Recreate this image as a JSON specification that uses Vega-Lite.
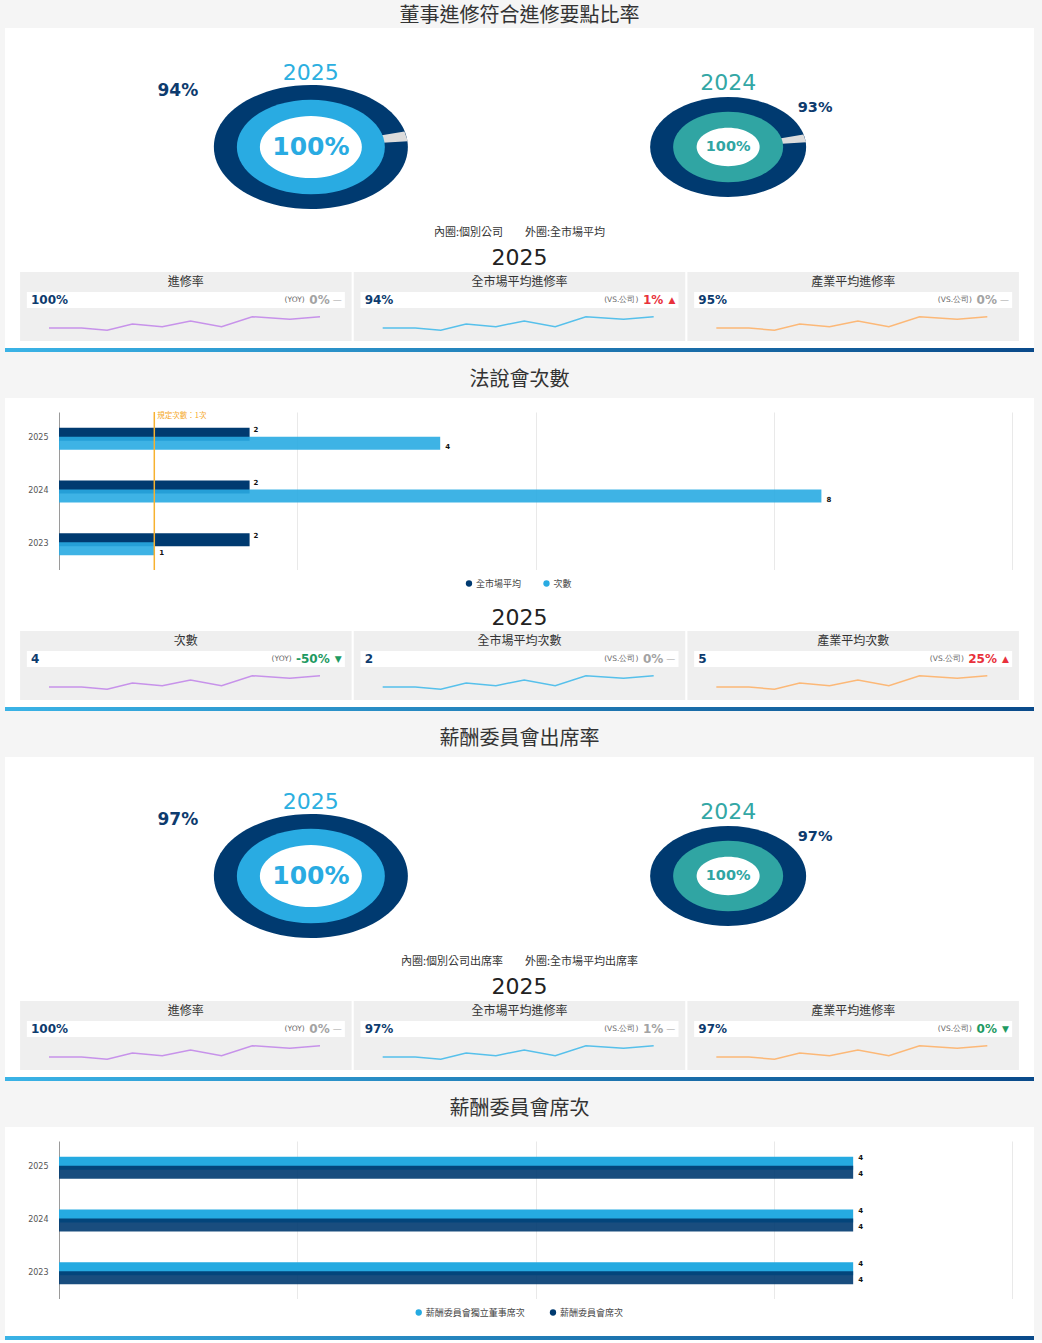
{
  "$schema": "https://vega.github.io/schema/vega-lite/v6.json",
  "background": "#f5f5f5",
  "padding": {"left": 5, "right": 8, "top": 6, "bottom": 0},
  "spacing": 18,
  "resolve": {"scale": {"color": "independent"}},
  "config": {
    "view": {"stroke": null},
    "title": {"font": "Noto Sans CJK TC", "fontSize": 20, "fontWeight": "normal", "color": "#333333", "offset": 8, "anchor": "middle"},
    "text": {"font": "DejaVu Sans"}
  },
  "datasets": {
    "donut1": [
      {"year": "2025", "inner": 1, "outer": 0.94},
      {"year": "2024", "inner": 1, "outer": 0.93}
    ],
    "donut3": [
      {"year": "2025", "inner": 1, "outer": 0.97},
      {"year": "2024", "inner": 1, "outer": 0.97}
    ],
    "cards1": [
      {"pos": 1, "name": "進修率", "val": "100%", "lbl": "(YOY)", "chg": "0%", "dir": "flat", "ind": "—"},
      {"pos": 2, "name": "全市場平均進修率", "val": "94%", "lbl": "(VS.公司)", "chg": "1%", "dir": "up", "ind": "▲"},
      {"pos": 3, "name": "產業平均進修率", "val": "95%", "lbl": "(VS.公司)", "chg": "0%", "dir": "flat", "ind": "—"}
    ],
    "cards2": [
      {"pos": 1, "name": "次數", "val": "4", "lbl": "(YOY)", "chg": "-50%", "dir": "down", "ind": "▼"},
      {"pos": 2, "name": "全市場平均次數", "val": "2", "lbl": "(VS.公司)", "chg": "0%", "dir": "flat", "ind": "—"},
      {"pos": 3, "name": "產業平均次數", "val": "5", "lbl": "(VS.公司)", "chg": "25%", "dir": "up", "ind": "▲"}
    ],
    "cards3": [
      {"pos": 1, "name": "進修率", "val": "100%", "lbl": "(YOY)", "chg": "0%", "dir": "flat", "ind": "—"},
      {"pos": 2, "name": "全市場平均進修率", "val": "97%", "lbl": "(VS.公司)", "chg": "1%", "dir": "flat", "ind": "—"},
      {"pos": 3, "name": "產業平均進修率", "val": "97%", "lbl": "(VS.公司)", "chg": "0%", "dir": "down", "ind": "▼"}
    ],
    "trend": [
      {"pos": 1, "t": 0, "v": 3}, {"pos": 1, "t": 1.08, "v": 3}, {"pos": 1, "t": 1.93, "v": 0.7}, {"pos": 1, "t": 2.77, "v": 7}, {"pos": 1, "t": 3.76, "v": 4.3},
      {"pos": 1, "t": 4.7, "v": 10}, {"pos": 1, "t": 5.73, "v": 4.3}, {"pos": 1, "t": 6.75, "v": 14.3}, {"pos": 1, "t": 8, "v": 11.7}, {"pos": 1, "t": 9, "v": 14.3},
      {"pos": 2, "t": 0, "v": 3}, {"pos": 2, "t": 1.08, "v": 3}, {"pos": 2, "t": 1.93, "v": 0.7}, {"pos": 2, "t": 2.77, "v": 7}, {"pos": 2, "t": 3.76, "v": 4.3},
      {"pos": 2, "t": 4.7, "v": 10}, {"pos": 2, "t": 5.73, "v": 4.3}, {"pos": 2, "t": 6.75, "v": 14.3}, {"pos": 2, "t": 8, "v": 11.7}, {"pos": 2, "t": 9, "v": 14.3},
      {"pos": 3, "t": 0, "v": 3}, {"pos": 3, "t": 1.08, "v": 3}, {"pos": 3, "t": 1.93, "v": 0.7}, {"pos": 3, "t": 2.77, "v": 7}, {"pos": 3, "t": 3.76, "v": 4.3},
      {"pos": 3, "t": 4.7, "v": 10}, {"pos": 3, "t": 5.73, "v": 4.3}, {"pos": 3, "t": 6.75, "v": 14.3}, {"pos": 3, "t": 8, "v": 11.7}, {"pos": 3, "t": 9, "v": 14.3}
    ],
    "talks": [
      {"year": "2025", "series": "全市場平均", "count": 2},
      {"year": "2025", "series": "次數", "count": 4},
      {"year": "2024", "series": "全市場平均", "count": 2},
      {"year": "2024", "series": "次數", "count": 8},
      {"year": "2023", "series": "全市場平均", "count": 2},
      {"year": "2023", "series": "次數", "count": 1}
    ],
    "talkRule": [
      {"req": 1, "label": "規定次數：1次", "at": "2025"}
    ],
    "seats": [
      {"year": "2025", "series": "薪酬委員會獨立董事席次", "count": 4},
      {"year": "2025", "series": "薪酬委員會席次", "count": 4},
      {"year": "2024", "series": "薪酬委員會獨立董事席次", "count": 4},
      {"year": "2024", "series": "薪酬委員會席次", "count": 4},
      {"year": "2023", "series": "薪酬委員會獨立董事席次", "count": 4},
      {"year": "2023", "series": "薪酬委員會席次", "count": 4}
    ],
    "blank": [{}]
  },
  "vconcat": [
    {
      "title": {"text": "董事進修符合進修要點比率", "offset": 2},
      "spacing": 0,
      "bounds": "flush",
      "resolve": {"scale": {"color": "independent"}},
      "vconcat": [
        {
          "width": 1029, "height": 244,
          "view": {"fill": "#ffffff", "stroke": null},
          "data": {"name": "donut1"},
          "layer": [
            {"transform": [{"filter": "datum.year == '2025'"}], "mark": {"type": "point", "shape": "M-1,0A1,0.64,0,1,1,1,0A1,0.64,0,1,1,-1,0Z", "size": 37636, "filled": true, "opacity": 1, "strokeWidth": 0, "color": "#003a70", "yOffset": -3}, "encoding": {"x": {"field": "year", "type": "nominal", "axis": null, "scale": {"type": "point", "domain": ["2025", "2024"], "padding": 0.733}}}},
            {"transform": [{"filter": "datum.year == '2024'"}], "mark": {"type": "point", "shape": "M-1,0A1,0.64,0,1,1,1,0A1,0.64,0,1,1,-1,0Z", "size": 24336, "filled": true, "opacity": 1, "strokeWidth": 0, "color": "#003a70", "yOffset": -3}, "encoding": {"x": {"field": "year", "type": "nominal", "axis": null}}},
            {"transform": [{"filter": "datum.year == '2025'"}], "mark": {"type": "point", "shape": "M0,0L1.0,-0.06L0.965,-0.16Z", "size": 37636, "filled": true, "opacity": 1, "strokeWidth": 0, "color": "#dcdcdc", "yOffset": -3}, "encoding": {"x": {"field": "year", "type": "nominal", "axis": null}}},
            {"transform": [{"filter": "datum.year == '2024'"}], "mark": {"type": "point", "shape": "M0,0L1.0,-0.06L0.965,-0.16Z", "size": 24336, "filled": true, "opacity": 1, "strokeWidth": 0, "color": "#dcdcdc", "yOffset": -3}, "encoding": {"x": {"field": "year", "type": "nominal", "axis": null}}},
            {"transform": [{"filter": "datum.year == '2025'"}], "mark": {"type": "point", "shape": "M-1,0A1,0.64,0,1,1,1,0A1,0.64,0,1,1,-1,0Z", "size": 21904, "filled": true, "opacity": 1, "strokeWidth": 0, "color": "#29abe2", "yOffset": -3}, "encoding": {"x": {"field": "year", "type": "nominal", "axis": null}}},
            {"transform": [{"filter": "datum.year == '2024'"}], "mark": {"type": "point", "shape": "M-1,0A1,0.64,0,1,1,1,0A1,0.64,0,1,1,-1,0Z", "size": 12100, "filled": true, "opacity": 1, "strokeWidth": 0, "color": "#30a5a3", "yOffset": -3}, "encoding": {"x": {"field": "year", "type": "nominal", "axis": null}}},
            {"transform": [{"filter": "datum.year == '2025'"}], "mark": {"type": "point", "shape": "M-1,0A1,0.61,0,1,1,1,0A1,0.61,0,1,1,-1,0Z", "size": 10404, "filled": true, "opacity": 1, "strokeWidth": 0, "color": "#ffffff", "yOffset": -3}, "encoding": {"x": {"field": "year", "type": "nominal", "axis": null}}},
            {"transform": [{"filter": "datum.year == '2024'"}], "mark": {"type": "point", "shape": "M-1,0A1,0.61,0,1,1,1,0A1,0.61,0,1,1,-1,0Z", "size": 3969, "filled": true, "opacity": 1, "strokeWidth": 0, "color": "#ffffff", "yOffset": -3}, "encoding": {"x": {"field": "year", "type": "nominal", "axis": null}}},
            {"transform": [{"filter": "datum.year == '2025'"}], "mark": {"type": "text", "fontSize": 25, "fontWeight": "bold", "color": "#29abe2", "dy": -3}, "encoding": {"x": {"field": "year", "type": "nominal", "axis": null}, "text": {"field": "inner", "format": ".0%"}}},
            {"transform": [{"filter": "datum.year == '2024'"}], "mark": {"type": "text", "fontSize": 14.5, "fontWeight": "bold", "color": "#30a5a3", "dy": -3}, "encoding": {"x": {"field": "year", "type": "nominal", "axis": null}, "text": {"field": "inner", "format": ".0%"}}},
            {"transform": [{"filter": "datum.year == '2025'"}], "mark": {"type": "text", "fontSize": 22, "color": "#2cafe0", "dy": -77}, "encoding": {"x": {"field": "year", "type": "nominal", "axis": null}, "text": {"field": "year"}}},
            {"transform": [{"filter": "datum.year == '2024'"}], "mark": {"type": "text", "fontSize": 22, "color": "#33a7a5", "dy": -67}, "encoding": {"x": {"field": "year", "type": "nominal", "axis": null}, "text": {"field": "year"}}},
            {"transform": [{"filter": "datum.year == '2025'"}], "mark": {"type": "text", "fontSize": 17, "fontWeight": "bold", "color": "#0d3b6e", "dx": -133, "dy": -59}, "encoding": {"x": {"field": "year", "type": "nominal", "axis": null}, "text": {"field": "outer", "format": ".0%"}}},
            {"transform": [{"filter": "datum.year == '2024'"}], "mark": {"type": "text", "fontSize": 14.5, "fontWeight": "bold", "color": "#0d3b6e", "dx": 87, "dy": -42}, "encoding": {"x": {"field": "year", "type": "nominal", "axis": null}, "text": {"field": "outer", "format": ".0%"}}},
            {"data": {"values": [{"note": "內圈:個別公司　　外圈:全市場平均", "head": "2025"}]}, "mark": {"type": "text", "font": "Noto Sans CJK TC", "fontSize": 11, "color": "#333333", "dy": 83}, "encoding": {"text": {"field": "note"}}},
            {"data": {"values": [{"note": "內圈:個別公司　　外圈:全市場平均", "head": "2025"}]}, "mark": {"type": "text", "fontSize": 22, "color": "#222222", "dy": 108}, "encoding": {"text": {"field": "head"}}}
          ]
        },
        {
          "width": 1029, "height": 20,
          "view": {"fill": "#ffffff", "stroke": null},
          "data": {"name": "cards1"},
          "layer": [
            {"mark": {"type": "bar", "color": "#efefef", "width": 331.5}, "encoding": {"x": {"field": "pos", "type": "ordinal", "axis": null, "scale": {"type": "band", "paddingInner": 0.006, "paddingOuter": 0.045}}}},
            {"mark": {"type": "text", "font": "Noto Sans CJK TC", "fontSize": 12, "color": "#333333"}, "encoding": {"x": {"field": "pos", "type": "ordinal", "axis": null}, "text": {"field": "name"}}}
          ]
        },
        {
          "width": 1029, "height": 16,
          "view": {"fill": "#ffffff", "stroke": null},
          "data": {"name": "cards1"},
          "layer": [
            {"mark": {"type": "bar", "color": "#efefef", "width": 331.5}, "encoding": {"x": {"field": "pos", "type": "ordinal", "axis": null, "scale": {"type": "band", "paddingInner": 0.006, "paddingOuter": 0.045}}}},
            {"mark": {"type": "bar", "color": "#ffffff", "width": 318}, "encoding": {"x": {"field": "pos", "type": "ordinal", "axis": null}}},
            {"mark": {"type": "text", "align": "left", "dx": 11, "fontSize": 12, "fontWeight": "bold", "color": "#0d3b6e"}, "encoding": {"x": {"field": "pos", "type": "ordinal", "axis": null, "bandPosition": 0}, "text": {"field": "val"}}},
            {"transform": [{"filter": "length(datum.chg) == 2"}], "mark": {"type": "text", "align": "right", "dx": -47, "fontSize": 7.5, "color": "#666666"}, "encoding": {"x": {"field": "pos", "type": "ordinal", "axis": null, "bandPosition": 1}, "text": {"field": "lbl"}}},
            {"transform": [{"filter": "length(datum.chg) == 3"}], "mark": {"type": "text", "align": "right", "dx": -55, "fontSize": 7.5, "color": "#666666"}, "encoding": {"x": {"field": "pos", "type": "ordinal", "axis": null, "bandPosition": 1}, "text": {"field": "lbl"}}},
            {"transform": [{"filter": "length(datum.chg) == 4"}], "mark": {"type": "text", "align": "right", "dx": -60, "fontSize": 7.5, "color": "#666666"}, "encoding": {"x": {"field": "pos", "type": "ordinal", "axis": null, "bandPosition": 1}, "text": {"field": "lbl"}}},
            {"mark": {"type": "text", "align": "right", "dx": -22, "fontSize": 12, "fontWeight": "bold"}, "encoding": {"x": {"field": "pos", "type": "ordinal", "axis": null, "bandPosition": 1}, "text": {"field": "chg"}, "color": {"field": "dir", "type": "nominal", "legend": null, "scale": {"domain": ["flat", "up", "down"], "range": ["#a3a3a3", "#e8313b", "#1e9a62"]}}}},
            {"mark": {"type": "text", "align": "right", "dx": -10, "fontSize": 9}, "encoding": {"x": {"field": "pos", "type": "ordinal", "axis": null, "bandPosition": 1}, "text": {"field": "ind"}, "color": {"field": "dir", "type": "nominal", "legend": null}}}
          ]
        },
        {
          "width": 1029, "height": 33,
          "view": {"fill": "#ffffff", "stroke": null},
          "layer": [
            {"data": {"name": "cards1"}, "mark": {"type": "bar", "color": "#efefef", "width": 331.5}, "encoding": {"x": {"field": "pos", "type": "ordinal", "axis": null, "scale": {"type": "band", "paddingInner": 0.006, "paddingOuter": 0.045}}}},
            {"data": {"name": "trend"}, "mark": {"type": "line", "strokeWidth": 1.5}, "encoding": {
              "x": {"field": "pos", "type": "ordinal", "axis": null, "bandPosition": 0},
              "xOffset": {"field": "t", "type": "quantitative", "scale": {"domain": [0, 9], "range": [29, 300], "nice": false, "zero": false}},
              "y": {"field": "v", "type": "quantitative", "axis": null, "scale": {"domain": [-10, 23], "nice": false, "zero": false}},
              "color": {"field": "pos", "type": "nominal", "legend": null, "scale": {"domain": [1, 2, 3], "range": ["#c792ea", "#56c0eb", "#fcb877"]}},
              "detail": {"field": "pos"}
            }}
          ]
        },
        {"width": 1029, "height": 7, "data": {"name": "blank"}, "mark": {"type": "rect", "color": "#ffffff"}, "encoding": {}},
        {"width": 1029, "height": 4, "data": {"name": "blank"}, "mark": {"type": "rect", "color": {"gradient": "linear", "x1": 0, "y1": 0, "x2": 1, "y2": 0, "stops": [{"offset": 0, "color": "#3ab3e6"}, {"offset": 1, "color": "#0a4a8a"}]}}, "encoding": {}}
      ]
    },
    {
      "title": "法說會次數",
      "spacing": 0,
      "bounds": "flush",
      "resolve": {"scale": {"color": "independent"}},
      "vconcat": [
        {"width": 1029, "height": 14, "data": {"name": "blank"}, "mark": {"type": "rect", "color": "#ffffff"}, "encoding": {}},
        {
          "width": 1029, "height": 158,
          "view": {"fill": "#ffffff", "stroke": null},
          "layer": [
            {"data": {"name": "talks"}, "transform": [{"filter": "datum.series == '全市場平均'"}], "mark": {"type": "bar", "height": 13, "yOffset": -4, "color": "#003a70"}, "encoding": {
              "x": {"field": "count", "type": "quantitative", "title": null, "scale": {"domain": [0, 10], "range": [54, 1007], "nice": false}, "axis": {"grid": true, "gridColor": "#e9e9e9", "domain": false, "ticks": false, "labels": false, "values": [2.5, 5, 7.5, 10], "title": null}},
              "y": {"field": "year", "type": "nominal", "title": null, "scale": {"domain": ["2025", "2024", "2023"], "paddingInner": 0, "paddingOuter": 0}, "axis": {"offset": -54, "domainColor": "#9a9a9a", "ticks": false, "labelPadding": 11, "labelFontSize": 8, "labelColor": "#555555", "labelFont": "DejaVu Sans", "grid": false, "title": null}}
            }},
            {"data": {"name": "talks"}, "transform": [{"filter": "datum.series == '次數'"}], "mark": {"type": "bar", "height": 13, "yOffset": 5, "color": "#29abe2", "opacity": 0.9}, "encoding": {
              "x": {"field": "count", "type": "quantitative", "title": null},
              "y": {"field": "year", "type": "nominal", "title": null}
            }},
            {"data": {"name": "talkRule"}, "mark": {"type": "rule", "color": "#f7b12f", "strokeWidth": 1.5}, "encoding": {
              "x": {"field": "req", "type": "quantitative", "title": null}
            }},
            {"data": {"name": "talkRule"}, "mark": {"type": "text", "align": "left", "baseline": "top", "dx": 3, "dy": 0, "fontSize": 7.5, "color": "#f5a623", "font": "Noto Sans CJK TC"}, "encoding": {
              "x": {"field": "req", "type": "quantitative", "title": null},
              "y": {"field": "at", "type": "nominal", "title": null, "bandPosition": 0},
              "text": {"field": "label"}
            }},
            {"data": {"name": "talks"}, "transform": [{"filter": "datum.series == '全市場平均'"}], "mark": {"type": "text", "align": "left", "dx": 4, "dy": -8, "fontSize": 7, "fontWeight": "bold", "color": "#111111"}, "encoding": {
              "x": {"field": "count", "type": "quantitative", "title": null},
              "y": {"field": "year", "type": "nominal", "title": null},
              "text": {"field": "count"}
            }},
            {"data": {"name": "talks"}, "transform": [{"filter": "datum.series == '次數'"}], "mark": {"type": "text", "align": "left", "dx": 5, "dy": 9, "fontSize": 7, "fontWeight": "bold", "color": "#111111"}, "encoding": {
              "x": {"field": "count", "type": "quantitative", "title": null},
              "y": {"field": "year", "type": "nominal", "title": null},
              "text": {"field": "count"}
            }}
          ]
        },
        {
          "width": 1029, "height": 61,
          "view": {"fill": "#ffffff", "stroke": null},
          "layer": [
            {"data": {"name": "talks"}, "transform": [{"aggregate": [{"op": "count", "as": "n"}], "groupby": ["series"]}], "mark": {"type": "point", "shape": "circle", "filled": true, "opacity": 1, "size": 40, "yOffset": -17}, "encoding": {
              "x": {"field": "series", "type": "nominal", "axis": null, "scale": {"type": "point", "domain": ["全市場平均", "次數"], "range": [464, 541.5], "padding": 0}},
              "color": {"field": "series", "type": "nominal", "legend": null, "scale": {"domain": ["全市場平均", "次數"], "range": ["#003a70", "#29abe2"]}}
            }},
            {"data": {"name": "talks"}, "transform": [{"aggregate": [{"op": "count", "as": "n"}], "groupby": ["series"]}], "mark": {"type": "text", "align": "left", "dx": 7, "dy": -17, "fontSize": 9, "font": "Noto Sans CJK TC", "color": "#444444"}, "encoding": {
              "x": {"field": "series", "type": "nominal", "axis": null},
              "text": {"field": "series"}
            }},
            {"data": {"values": [{"head": "2025"}]}, "mark": {"type": "text", "fontSize": 22, "color": "#222222", "dy": 17}, "encoding": {"text": {"field": "head"}}}
          ]
        },
        {
          "width": 1029, "height": 20,
          "view": {"fill": "#ffffff", "stroke": null},
          "data": {"name": "cards2"},
          "layer": [
            {"mark": {"type": "bar", "color": "#efefef", "width": 331.5}, "encoding": {"x": {"field": "pos", "type": "ordinal", "axis": null, "scale": {"type": "band", "paddingInner": 0.006, "paddingOuter": 0.045}}}},
            {"mark": {"type": "text", "font": "Noto Sans CJK TC", "fontSize": 12, "color": "#333333"}, "encoding": {"x": {"field": "pos", "type": "ordinal", "axis": null}, "text": {"field": "name"}}}
          ]
        },
        {
          "width": 1029, "height": 16,
          "view": {"fill": "#ffffff", "stroke": null},
          "data": {"name": "cards2"},
          "layer": [
            {"mark": {"type": "bar", "color": "#efefef", "width": 331.5}, "encoding": {"x": {"field": "pos", "type": "ordinal", "axis": null, "scale": {"type": "band", "paddingInner": 0.006, "paddingOuter": 0.045}}}},
            {"mark": {"type": "bar", "color": "#ffffff", "width": 318}, "encoding": {"x": {"field": "pos", "type": "ordinal", "axis": null}}},
            {"mark": {"type": "text", "align": "left", "dx": 11, "fontSize": 12, "fontWeight": "bold", "color": "#0d3b6e"}, "encoding": {"x": {"field": "pos", "type": "ordinal", "axis": null, "bandPosition": 0}, "text": {"field": "val"}}},
            {"transform": [{"filter": "length(datum.chg) == 2"}], "mark": {"type": "text", "align": "right", "dx": -47, "fontSize": 7.5, "color": "#666666"}, "encoding": {"x": {"field": "pos", "type": "ordinal", "axis": null, "bandPosition": 1}, "text": {"field": "lbl"}}},
            {"transform": [{"filter": "length(datum.chg) == 3"}], "mark": {"type": "text", "align": "right", "dx": -55, "fontSize": 7.5, "color": "#666666"}, "encoding": {"x": {"field": "pos", "type": "ordinal", "axis": null, "bandPosition": 1}, "text": {"field": "lbl"}}},
            {"transform": [{"filter": "length(datum.chg) == 4"}], "mark": {"type": "text", "align": "right", "dx": -60, "fontSize": 7.5, "color": "#666666"}, "encoding": {"x": {"field": "pos", "type": "ordinal", "axis": null, "bandPosition": 1}, "text": {"field": "lbl"}}},
            {"mark": {"type": "text", "align": "right", "dx": -22, "fontSize": 12, "fontWeight": "bold"}, "encoding": {"x": {"field": "pos", "type": "ordinal", "axis": null, "bandPosition": 1}, "text": {"field": "chg"}, "color": {"field": "dir", "type": "nominal", "legend": null, "scale": {"domain": ["flat", "up", "down"], "range": ["#a3a3a3", "#e8313b", "#1e9a62"]}}}},
            {"mark": {"type": "text", "align": "right", "dx": -10, "fontSize": 9}, "encoding": {"x": {"field": "pos", "type": "ordinal", "axis": null, "bandPosition": 1}, "text": {"field": "ind"}, "color": {"field": "dir", "type": "nominal", "legend": null}}}
          ]
        },
        {
          "width": 1029, "height": 33,
          "view": {"fill": "#ffffff", "stroke": null},
          "layer": [
            {"data": {"name": "cards2"}, "mark": {"type": "bar", "color": "#efefef", "width": 331.5}, "encoding": {"x": {"field": "pos", "type": "ordinal", "axis": null, "scale": {"type": "band", "paddingInner": 0.006, "paddingOuter": 0.045}}}},
            {"data": {"name": "trend"}, "mark": {"type": "line", "strokeWidth": 1.5}, "encoding": {
              "x": {"field": "pos", "type": "ordinal", "axis": null, "bandPosition": 0},
              "xOffset": {"field": "t", "type": "quantitative", "scale": {"domain": [0, 9], "range": [29, 300], "nice": false, "zero": false}},
              "y": {"field": "v", "type": "quantitative", "axis": null, "scale": {"domain": [-10, 23], "nice": false, "zero": false}},
              "color": {"field": "pos", "type": "nominal", "legend": null, "scale": {"domain": [1, 2, 3], "range": ["#c792ea", "#56c0eb", "#fcb877"]}},
              "detail": {"field": "pos"}
            }}
          ]
        },
        {"width": 1029, "height": 7, "data": {"name": "blank"}, "mark": {"type": "rect", "color": "#ffffff"}, "encoding": {}},
        {"width": 1029, "height": 4, "data": {"name": "blank"}, "mark": {"type": "rect", "color": {"gradient": "linear", "x1": 0, "y1": 0, "x2": 1, "y2": 0, "stops": [{"offset": 0, "color": "#3ab3e6"}, {"offset": 1, "color": "#0a4a8a"}]}}, "encoding": {}}
      ]
    },
    {
      "title": "薪酬委員會出席率",
      "spacing": 0,
      "bounds": "flush",
      "resolve": {"scale": {"color": "independent"}},
      "vconcat": [
        {
          "width": 1029, "height": 244,
          "view": {"fill": "#ffffff", "stroke": null},
          "data": {"name": "donut3"},
          "layer": [
            {"transform": [{"filter": "datum.year == '2025'"}], "mark": {"type": "point", "shape": "M-1,0A1,0.64,0,1,1,1,0A1,0.64,0,1,1,-1,0Z", "size": 37636, "filled": true, "opacity": 1, "strokeWidth": 0, "color": "#003a70", "yOffset": -3}, "encoding": {"x": {"field": "year", "type": "nominal", "axis": null, "scale": {"type": "point", "domain": ["2025", "2024"], "padding": 0.733}}}},
            {"transform": [{"filter": "datum.year == '2024'"}], "mark": {"type": "point", "shape": "M-1,0A1,0.64,0,1,1,1,0A1,0.64,0,1,1,-1,0Z", "size": 24336, "filled": true, "opacity": 1, "strokeWidth": 0, "color": "#003a70", "yOffset": -3}, "encoding": {"x": {"field": "year", "type": "nominal", "axis": null}}},
            {"transform": [{"filter": "datum.year == '2025'"}], "mark": {"type": "point", "shape": "M-1,0A1,0.64,0,1,1,1,0A1,0.64,0,1,1,-1,0Z", "size": 21904, "filled": true, "opacity": 1, "strokeWidth": 0, "color": "#29abe2", "yOffset": -3}, "encoding": {"x": {"field": "year", "type": "nominal", "axis": null}}},
            {"transform": [{"filter": "datum.year == '2024'"}], "mark": {"type": "point", "shape": "M-1,0A1,0.64,0,1,1,1,0A1,0.64,0,1,1,-1,0Z", "size": 12100, "filled": true, "opacity": 1, "strokeWidth": 0, "color": "#30a5a3", "yOffset": -3}, "encoding": {"x": {"field": "year", "type": "nominal", "axis": null}}},
            {"transform": [{"filter": "datum.year == '2025'"}], "mark": {"type": "point", "shape": "M-1,0A1,0.61,0,1,1,1,0A1,0.61,0,1,1,-1,0Z", "size": 10404, "filled": true, "opacity": 1, "strokeWidth": 0, "color": "#ffffff", "yOffset": -3}, "encoding": {"x": {"field": "year", "type": "nominal", "axis": null}}},
            {"transform": [{"filter": "datum.year == '2024'"}], "mark": {"type": "point", "shape": "M-1,0A1,0.61,0,1,1,1,0A1,0.61,0,1,1,-1,0Z", "size": 3969, "filled": true, "opacity": 1, "strokeWidth": 0, "color": "#ffffff", "yOffset": -3}, "encoding": {"x": {"field": "year", "type": "nominal", "axis": null}}},
            {"transform": [{"filter": "datum.year == '2025'"}], "mark": {"type": "text", "fontSize": 25, "fontWeight": "bold", "color": "#29abe2", "dy": -3}, "encoding": {"x": {"field": "year", "type": "nominal", "axis": null}, "text": {"field": "inner", "format": ".0%"}}},
            {"transform": [{"filter": "datum.year == '2024'"}], "mark": {"type": "text", "fontSize": 14.5, "fontWeight": "bold", "color": "#30a5a3", "dy": -3}, "encoding": {"x": {"field": "year", "type": "nominal", "axis": null}, "text": {"field": "inner", "format": ".0%"}}},
            {"transform": [{"filter": "datum.year == '2025'"}], "mark": {"type": "text", "fontSize": 22, "color": "#2cafe0", "dy": -77}, "encoding": {"x": {"field": "year", "type": "nominal", "axis": null}, "text": {"field": "year"}}},
            {"transform": [{"filter": "datum.year == '2024'"}], "mark": {"type": "text", "fontSize": 22, "color": "#33a7a5", "dy": -67}, "encoding": {"x": {"field": "year", "type": "nominal", "axis": null}, "text": {"field": "year"}}},
            {"transform": [{"filter": "datum.year == '2025'"}], "mark": {"type": "text", "fontSize": 17, "fontWeight": "bold", "color": "#0d3b6e", "dx": -133, "dy": -59}, "encoding": {"x": {"field": "year", "type": "nominal", "axis": null}, "text": {"field": "outer", "format": ".0%"}}},
            {"transform": [{"filter": "datum.year == '2024'"}], "mark": {"type": "text", "fontSize": 14.5, "fontWeight": "bold", "color": "#0d3b6e", "dx": 87, "dy": -42}, "encoding": {"x": {"field": "year", "type": "nominal", "axis": null}, "text": {"field": "outer", "format": ".0%"}}},
            {"data": {"values": [{"note": "內圈:個別公司出席率　　外圈:全市場平均出席率", "head": "2025"}]}, "mark": {"type": "text", "font": "Noto Sans CJK TC", "fontSize": 11, "color": "#333333", "dy": 83}, "encoding": {"text": {"field": "note"}}},
            {"data": {"values": [{"note": "內圈:個別公司出席率　　外圈:全市場平均出席率", "head": "2025"}]}, "mark": {"type": "text", "fontSize": 22, "color": "#222222", "dy": 108}, "encoding": {"text": {"field": "head"}}}
          ]
        },
        {
          "width": 1029, "height": 20,
          "view": {"fill": "#ffffff", "stroke": null},
          "data": {"name": "cards3"},
          "layer": [
            {"mark": {"type": "bar", "color": "#efefef", "width": 331.5}, "encoding": {"x": {"field": "pos", "type": "ordinal", "axis": null, "scale": {"type": "band", "paddingInner": 0.006, "paddingOuter": 0.045}}}},
            {"mark": {"type": "text", "font": "Noto Sans CJK TC", "fontSize": 12, "color": "#333333"}, "encoding": {"x": {"field": "pos", "type": "ordinal", "axis": null}, "text": {"field": "name"}}}
          ]
        },
        {
          "width": 1029, "height": 16,
          "view": {"fill": "#ffffff", "stroke": null},
          "data": {"name": "cards3"},
          "layer": [
            {"mark": {"type": "bar", "color": "#efefef", "width": 331.5}, "encoding": {"x": {"field": "pos", "type": "ordinal", "axis": null, "scale": {"type": "band", "paddingInner": 0.006, "paddingOuter": 0.045}}}},
            {"mark": {"type": "bar", "color": "#ffffff", "width": 318}, "encoding": {"x": {"field": "pos", "type": "ordinal", "axis": null}}},
            {"mark": {"type": "text", "align": "left", "dx": 11, "fontSize": 12, "fontWeight": "bold", "color": "#0d3b6e"}, "encoding": {"x": {"field": "pos", "type": "ordinal", "axis": null, "bandPosition": 0}, "text": {"field": "val"}}},
            {"transform": [{"filter": "length(datum.chg) == 2"}], "mark": {"type": "text", "align": "right", "dx": -47, "fontSize": 7.5, "color": "#666666"}, "encoding": {"x": {"field": "pos", "type": "ordinal", "axis": null, "bandPosition": 1}, "text": {"field": "lbl"}}},
            {"transform": [{"filter": "length(datum.chg) == 3"}], "mark": {"type": "text", "align": "right", "dx": -55, "fontSize": 7.5, "color": "#666666"}, "encoding": {"x": {"field": "pos", "type": "ordinal", "axis": null, "bandPosition": 1}, "text": {"field": "lbl"}}},
            {"transform": [{"filter": "length(datum.chg) == 4"}], "mark": {"type": "text", "align": "right", "dx": -60, "fontSize": 7.5, "color": "#666666"}, "encoding": {"x": {"field": "pos", "type": "ordinal", "axis": null, "bandPosition": 1}, "text": {"field": "lbl"}}},
            {"mark": {"type": "text", "align": "right", "dx": -22, "fontSize": 12, "fontWeight": "bold"}, "encoding": {"x": {"field": "pos", "type": "ordinal", "axis": null, "bandPosition": 1}, "text": {"field": "chg"}, "color": {"field": "dir", "type": "nominal", "legend": null, "scale": {"domain": ["flat", "up", "down"], "range": ["#a3a3a3", "#e8313b", "#1e9a62"]}}}},
            {"mark": {"type": "text", "align": "right", "dx": -10, "fontSize": 9}, "encoding": {"x": {"field": "pos", "type": "ordinal", "axis": null, "bandPosition": 1}, "text": {"field": "ind"}, "color": {"field": "dir", "type": "nominal", "legend": null}}}
          ]
        },
        {
          "width": 1029, "height": 33,
          "view": {"fill": "#ffffff", "stroke": null},
          "layer": [
            {"data": {"name": "cards3"}, "mark": {"type": "bar", "color": "#efefef", "width": 331.5}, "encoding": {"x": {"field": "pos", "type": "ordinal", "axis": null, "scale": {"type": "band", "paddingInner": 0.006, "paddingOuter": 0.045}}}},
            {"data": {"name": "trend"}, "mark": {"type": "line", "strokeWidth": 1.5}, "encoding": {
              "x": {"field": "pos", "type": "ordinal", "axis": null, "bandPosition": 0},
              "xOffset": {"field": "t", "type": "quantitative", "scale": {"domain": [0, 9], "range": [29, 300], "nice": false, "zero": false}},
              "y": {"field": "v", "type": "quantitative", "axis": null, "scale": {"domain": [-10, 23], "nice": false, "zero": false}},
              "color": {"field": "pos", "type": "nominal", "legend": null, "scale": {"domain": [1, 2, 3], "range": ["#c792ea", "#56c0eb", "#fcb877"]}},
              "detail": {"field": "pos"}
            }}
          ]
        },
        {"width": 1029, "height": 7, "data": {"name": "blank"}, "mark": {"type": "rect", "color": "#ffffff"}, "encoding": {}},
        {"width": 1029, "height": 4, "data": {"name": "blank"}, "mark": {"type": "rect", "color": {"gradient": "linear", "x1": 0, "y1": 0, "x2": 1, "y2": 0, "stops": [{"offset": 0, "color": "#3ab3e6"}, {"offset": 1, "color": "#0a4a8a"}]}}, "encoding": {}}
      ]
    },
    {
      "title": "薪酬委員會席次",
      "spacing": 0,
      "bounds": "flush",
      "resolve": {"scale": {"color": "independent"}},
      "vconcat": [
        {"width": 1029, "height": 14, "data": {"name": "blank"}, "mark": {"type": "rect", "color": "#ffffff"}, "encoding": {}},
        {
          "width": 1029, "height": 158,
          "view": {"fill": "#ffffff", "stroke": null},
          "layer": [
            {"data": {"name": "seats"}, "transform": [{"filter": "datum.series == '薪酬委員會獨立董事席次'"}], "mark": {"type": "bar", "height": 13, "yOffset": -4, "color": "#25aae1"}, "encoding": {
              "x": {"field": "count", "type": "quantitative", "title": null, "scale": {"domain": [0, 4.8], "range": [54, 1007], "nice": false}, "axis": {"grid": true, "gridColor": "#e9e9e9", "domain": false, "ticks": false, "labels": false, "values": [1.2, 2.4, 3.6, 4.8], "title": null}},
              "y": {"field": "year", "type": "nominal", "title": null, "scale": {"domain": ["2025", "2024", "2023"], "paddingInner": 0, "paddingOuter": 0}, "axis": {"offset": -54, "domainColor": "#9a9a9a", "ticks": false, "labelPadding": 11, "labelFontSize": 8, "labelColor": "#555555", "labelFont": "DejaVu Sans", "grid": false, "title": null}}
            }},
            {"data": {"name": "seats"}, "transform": [{"filter": "datum.series == '薪酬委員會席次'"}], "mark": {"type": "bar", "height": 13, "yOffset": 5, "color": "#003a70", "opacity": 0.9}, "encoding": {
              "x": {"field": "count", "type": "quantitative", "title": null},
              "y": {"field": "year", "type": "nominal", "title": null}
            }},
            {"data": {"name": "seats"}, "transform": [{"filter": "datum.series == '薪酬委員會獨立董事席次'"}], "mark": {"type": "text", "align": "left", "dx": 5, "dy": -9, "fontSize": 7, "fontWeight": "bold", "color": "#111111"}, "encoding": {
              "x": {"field": "count", "type": "quantitative", "title": null},
              "y": {"field": "year", "type": "nominal", "title": null},
              "text": {"field": "count"}
            }},
            {"data": {"name": "seats"}, "transform": [{"filter": "datum.series == '薪酬委員會席次'"}], "mark": {"type": "text", "align": "left", "dx": 5, "dy": 7, "fontSize": 7, "fontWeight": "bold", "color": "#111111"}, "encoding": {
              "x": {"field": "count", "type": "quantitative", "title": null},
              "y": {"field": "year", "type": "nominal", "title": null},
              "text": {"field": "count"}
            }}
          ]
        },
        {
          "width": 1029, "height": 37,
          "view": {"fill": "#ffffff", "stroke": null},
          "layer": [
            {"data": {"name": "seats"}, "transform": [{"aggregate": [{"op": "count", "as": "n"}], "groupby": ["series"]}], "mark": {"type": "point", "shape": "circle", "filled": true, "opacity": 1, "size": 40, "yOffset": -5}, "encoding": {
              "x": {"field": "series", "type": "nominal", "axis": null, "scale": {"type": "point", "domain": ["薪酬委員會獨立董事席次", "薪酬委員會席次"], "range": [413.7, 548], "padding": 0}},
              "color": {"field": "series", "type": "nominal", "legend": null, "scale": {"domain": ["薪酬委員會獨立董事席次", "薪酬委員會席次"], "range": ["#25aae1", "#003a70"]}}
            }},
            {"data": {"name": "seats"}, "transform": [{"aggregate": [{"op": "count", "as": "n"}], "groupby": ["series"]}], "mark": {"type": "text", "align": "left", "dx": 7, "dy": -5, "fontSize": 9, "font": "Noto Sans CJK TC", "color": "#444444"}, "encoding": {
              "x": {"field": "series", "type": "nominal", "axis": null},
              "text": {"field": "series"}
            }}
          ]
        },
        {"width": 1029, "height": 4, "data": {"name": "blank"}, "mark": {"type": "rect", "color": {"gradient": "linear", "x1": 0, "y1": 0, "x2": 1, "y2": 0, "stops": [{"offset": 0, "color": "#3ab3e6"}, {"offset": 1, "color": "#0a4a8a"}]}}, "encoding": {}}
      ]
    }
  ]
}
